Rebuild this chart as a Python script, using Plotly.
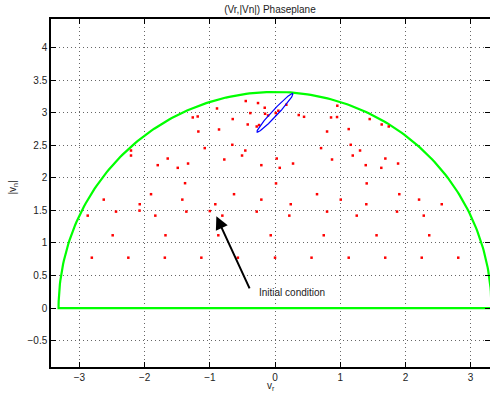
import numpy as np
import plotly.graph_objects as go

# ---- data ----
# red sample points (v_r, |v_n|)
row_a_x = [-2.81, -2.25, -1.69, -1.13, -0.57, 0.0, 0.56, 1.13, 1.69, 2.25, 2.81]
row_a_y = [0.774] * len(row_a_x)
row_b_x = [-2.49, -1.68, -0.87, -0.066, 0.747, 1.557, 2.365]
row_b_y = [1.118] * len(row_b_x)
mid_x = [-2.873, -2.627, -2.439, -2.078, -2.075, -1.902, -1.836, -1.422, -1.380, -1.360,
         -1.0, -0.916, -0.808, -0.629, -0.210, -0.281, 0.241, 0.219, 0.015, 0.644,
         1.008, 0.798, 1.406, 1.906, 2.209, 1.400, 2.557, 1.253, 1.871, 2.281]
mid_y = [1.42, 1.666, 1.482, 1.497, 1.595, 1.749, 1.42, 1.666, 1.918, 1.482,
         1.49, 1.595, 1.42, 1.749, 1.666, 1.482, 1.595, 1.42, 1.915, 1.749,
         1.666, 1.482, 1.915, 1.749, 1.666, 1.595, 1.595, 1.42, 1.482, 1.42]
up_x = [-2.209, -2.209, -1.799, -1.646, -1.492, -1.334, -1.262, -1.186, -1.176, -0.449,
        -0.261, -0.890, -0.158, -0.379, -0.649, -0.153, -0.107, 0.011, 0.051, 0.173,
        0.364, 0.445, 0.955, 0.951, 0.859, -0.419, -0.245, -0.281, -0.859, 0.798,
        -0.655, -1.078, 0.706, -0.456, -0.506, -0.778, 0.026, 0.276, 0.874, -0.210,
        0.072, 1.452, 1.636, 1.744, 1.130, 1.161, 1.304, 1.192, 1.692, 1.391,
        1.630, 1.887]
up_y = [2.42, 2.343, 2.195, 2.297, 2.154, 2.22, 2.928, 2.943, 2.712, 3.18,
        3.149, 3.066, 3.077, 2.995, 2.903, 2.985, 2.958, 2.995, 3.031, 3.123,
        2.965, 2.938, 3.108, 2.934, 2.928, 2.82, 2.811, 2.789, 2.743, 2.712,
        2.508, 2.457, 2.457, 2.42, 2.343, 2.282, 2.297, 2.22, 2.282, 2.195,
        2.154, 2.903, 2.82, 2.789, 2.749, 2.508, 2.42, 2.343, 2.297, 2.195,
        2.154, 2.22]

# boundary semicircle radius
boundary_r = 3.32
# blue ellipse parameters: center, semi-axes, angle (deg)
ell_center = (0.0, 3.0)
ell_axes = (0.405, 0.045)
ell_angle = 47.0
# initial condition
init_x, init_y = -1.0, 1.5
# arrow tail / text position
arrow_tail = (-0.38, 0.28)
arrow_tip = (-0.90, 1.41)
label_pos = (-0.27, 0.24)

x_ticks = [-3, -2, -1, 0, 1, 2, 3]
y_ticks = [-0.5, 0, 0.5, 1, 1.5, 2, 2.5, 3, 3.5, 4]

# ---- shapes ----
t = np.linspace(0, np.pi, 200)
bx = list(boundary_r * np.cos(t)) + [-boundary_r, boundary_r]
by = list(boundary_r * np.sin(t)) + [0.0, 0.0]

s = np.linspace(0, 2 * np.pi, 200)
ang = np.deg2rad(ell_angle)
ex = ell_center[0] + ell_axes[0] * np.cos(s) * np.cos(ang) - ell_axes[1] * np.sin(s) * np.sin(ang)
ey = ell_center[1] + ell_axes[0] * np.cos(s) * np.sin(ang) + ell_axes[1] * np.sin(s) * np.cos(ang)

fig = go.Figure()
fig.add_trace(go.Scatter(x=bx, y=by, mode="lines",
                         line=dict(color="#00ff00", width=2.2), hoverinfo="skip"))
fig.add_trace(go.Scatter(x=row_a_x + row_b_x + mid_x + up_x,
                         y=row_a_y + row_b_y + mid_y + up_y,
                         mode="markers",
                         marker=dict(color="#ff0000", size=2.5, symbol="square"),
                         hoverinfo="skip"))
fig.add_trace(go.Scatter(x=list(ex), y=list(ey), mode="lines",
                         line=dict(color="#0000ff", width=1.2), hoverinfo="skip"))
fig.add_trace(go.Scatter(x=[init_x], y=[init_y], mode="markers",
                         marker=dict(color="rgba(0,0,0,0)", size=9, symbol="circle-open",
                                     line=dict(color="#00cc00", width=1.5)),
                         hoverinfo="skip"))

font = dict(family="Liberation Sans, Arial, Helvetica", size=10, color="#222")

fig.add_annotation(x=arrow_tip[0], y=arrow_tip[1], ax=arrow_tail[0], ay=arrow_tail[1],
                   xref="x", yref="y", axref="x", ayref="y", text="",
                   showarrow=True, arrowhead=2, arrowsize=1.3, arrowwidth=2,
                   arrowcolor="black", standoff=0)
fig.add_annotation(x=label_pos[0], y=label_pos[1], xref="x", yref="y",
                   text="Initial condition", showarrow=False,
                   xanchor="left", yanchor="middle", font=font)
fig.add_annotation(x=0.5, y=-0.033, xref="paper", yref="paper",
                   text="v<sub>r</sub>", showarrow=False,
                   xanchor="center", yanchor="top", font=font)
fig.add_annotation(x=-0.087, y=0.515, xref="paper", yref="paper",
                   text="|v<sub>n</sub>|", showarrow=False, textangle=-90,
                   xanchor="center", yanchor="middle", font=font)

axis_common = dict(showgrid=True, gridcolor="#666", griddash="1px,3px", gridwidth=1,
                   zeroline=False, showline=True, linecolor="black", linewidth=1.5,
                   ticks="inside", ticklen=5, tickcolor="black", tickfont=font,
                   automargin=False)
fig.update_xaxes(range=[-3.436, 3.297], tickvals=x_ticks,
                 ticktext=["\u22123", "\u22122", "\u22121", "0", "1", "2", "3"],
                 mirror="ticks", **axis_common)
fig.update_yaxes(range=[-0.905, 4.44], tickvals=y_ticks,
                 ticktext=["\u22120.5", "0", "0.5", "1", "1.5", "2", "2.5", "3", "3.5", "4"],
                 mirror="ticks", **axis_common)

fig.update_layout(width=490, height=398,
                  margin=dict(l=51, r=0, t=19, b=31, autoexpand=False),
                  paper_bgcolor="white", plot_bgcolor="white",
                  showlegend=False,
                  title=dict(text="(Vr,|Vn|) Phaseplane", x=0.551, xanchor="center",
                             y=0.975, yanchor="middle", yref="container",
                             font=dict(family="Liberation Sans, Arial, Helvetica", size=10, color="#222")))

fig.write_html("out.html", config={"displayModeBar": False},
               post_script="document.body.style.margin='0';document.body.style.overflow='hidden';")
